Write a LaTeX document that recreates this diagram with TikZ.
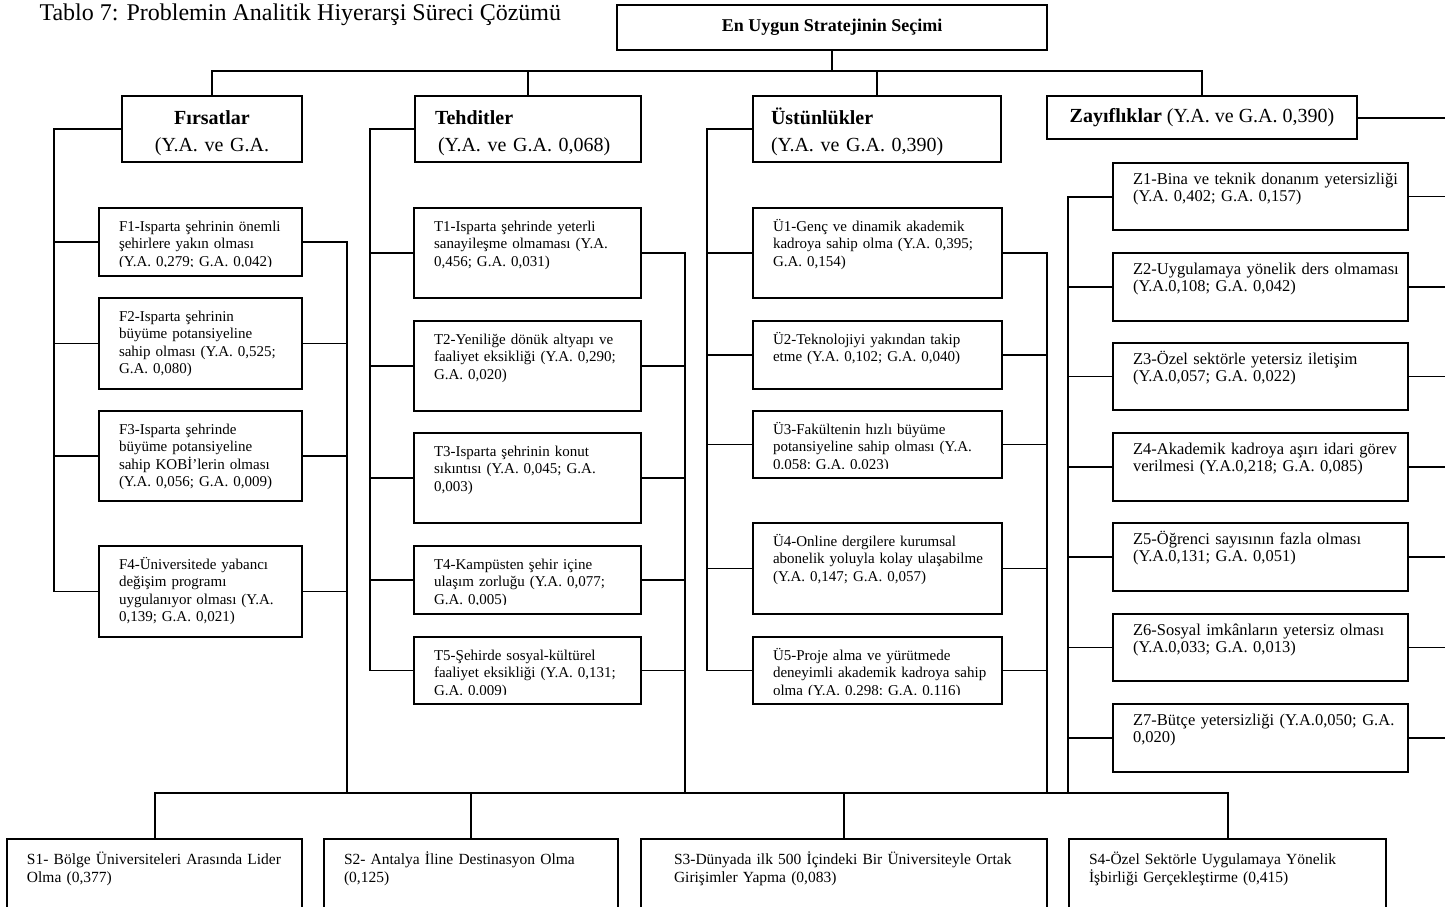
\documentclass[tikz,border=0pt]{standalone}
\usepackage{fontspec}
\setmainfont{Liberation Serif}
\usetikzlibrary{positioning}

\begin{document}
\begin{tikzpicture}[x=1pt, y=-1pt,
    box/.style={draw, line width=1.5pt, anchor=north west, inner sep=0pt, outer sep=0pt},
    itembox/.style 2 args={box, path picture={
        \clip (path picture bounding box.north west) rectangle ([yshift=10pt]path picture bounding box.south east);
        \node [anchor=base west, inner sep=0pt, text width=380pt, align=left] at ([shift={(20pt,-#1)}]path picture bounding box.north west) {#2};}},
    head/.style={box, minimum height=66, font=\fontsize{20}{27}\selectfont, text height=21.6pt, text depth=31.3pt},
    midtext/.style={font=\fontsize{15}{17.5}\selectfont},
    ztext/.style={font=\fontsize{16.5}{17}\selectfont},
    stext/.style={font=\fontsize{15.5}{18}\selectfont},
    wire/.style={line width=1.3pt},
    trunk/.style={line width=2pt}]
    \useasboundingbox (0,0) rectangle (1445,906);

    \node [anchor=base west, font=\fontsize{24}{29}\selectfont] (title) at (36,20) {Tablo 7: Problemin Analitik Hiyerarşi Süreci Çözümü};
    \node [box, minimum width=430, minimum height=45, font=\bfseries\fontsize{18}{22}\selectfont] (goal) at (617,5) {En Uygun Stratejinin Seçimi};

    % main groups
    \node [head, text width=180, align=center] (firs) at (122,96) {\textbf{Fırsatlar}\\(Y.A. ve G.A.};
    \node [head, text width=186, inner xsep=20pt, align=left] (tehd) at (415,96) {\textbf{Tehditler}\\\hspace*{3pt}(Y.A. ve G.A. 0,068)};
    \node [head, text width=212, inner xsep=18pt, align=left] (ustu) at (753,96) {\textbf{Üstünlükler}\\(Y.A. ve G.A. 0,390)};
    \node [box, minimum width=310, minimum height=43, font=\fontsize{20}{27}\selectfont] (zayi) at (1047,96) {\textbf{Zayıflıklar} (Y.A. ve G.A. 0,390)};

    % opportunities
    \node [itembox={23pt}{F1-Isparta şehrinin önemli\\şehirlere yakın olması\\(Y.A. 0,279; G.A. 0,042)}, midtext, minimum width=203, minimum height=68] (f1) at (99,208) {};
    \node [itembox={23pt}{F2-Isparta şehrinin\\büyüme potansiyeline\\sahip olması (Y.A. 0,525;\\G.A. 0,080)}, midtext, minimum width=203, minimum height=91, below=22pt of f1] (f2) {};
    \node [itembox={23pt}{F3-Isparta şehrinde\\büyüme potansiyeline\\sahip KOBİ’lerin olması\\(Y.A. 0,056; G.A. 0,009)}, midtext, minimum width=203, minimum height=90, below=22pt of f2] (f3) {};
    \node [itembox={23pt}{F4-Üniversitede yabancı\\değişim programı\\uygulanıyor olması (Y.A.\\0,139; G.A. 0,021)}, midtext, minimum width=203, minimum height=91, below=45pt of f3] (f4) {};

    % threats
    \node [itembox={23pt}{T1-Isparta şehrinde yeterli\\sanayileşme olmaması (Y.A.\\0,456; G.A. 0,031)}, midtext, minimum width=227, minimum height=90] (t1) at (414,208) {};
    \node [itembox={23pt}{T2-Yeniliğe dönük altyapı ve\\faaliyet eksikliği (Y.A. 0,290;\\G.A. 0,020)}, midtext, minimum width=227, minimum height=90, below=23pt of t1] (t2) {};
    \node [itembox={23pt}{T3-Isparta şehrinin konut\\sıkıntısı (Y.A. 0,045; G.A.\\0,003)}, midtext, minimum width=227, minimum height=90, below=22pt of t2] (t3) {};
    \node [itembox={23pt}{T4-Kampüsten şehir içine\\ulaşım zorluğu (Y.A. 0,077;\\G.A. 0,005)}, midtext, minimum width=227, minimum height=68, below=23pt of t3] (t4) {};
    \node [itembox={23pt}{T5-Şehirde sosyal-kültürel\\faaliyet eksikliği (Y.A. 0,131;\\G.A. 0,009)}, midtext, minimum width=227, minimum height=67, below=23pt of t4] (t5) {};

    % strengths
    \node [itembox={23pt}{Ü1-Genç ve dinamik akademik\\kadroya sahip olma (Y.A. 0,395;\\G.A. 0,154)}, midtext, minimum width=249, minimum height=90] (u1) at (753,208) {};
    \node [itembox={23pt}{Ü2-Teknolojiyi yakından takip\\etme (Y.A. 0,102; G.A. 0,040)}, midtext, minimum width=249, minimum height=68, below=23pt of u1] (u2) {};
    \node [itembox={23pt}{Ü3-Fakültenin hızlı büyüme\\potansiyeline sahip olması (Y.A.\\0,058; G.A. 0,023)}, midtext, minimum width=249, minimum height=67, below=22pt of u2] (u3) {};
    \node [itembox={23pt}{Ü4-Online dergilere kurumsal\\abonelik yoluyla kolay ulaşabilme\\(Y.A. 0,147; G.A. 0,057)}, midtext, minimum width=249, minimum height=91, below=45pt of u3] (u4) {};
    \node [itembox={23pt}{Ü5-Proje alma ve yürütmede\\deneyimli akademik kadroya sahip\\olma (Y.A. 0,298; G.A. 0,116)}, midtext, minimum width=249, minimum height=67, below=23pt of u4] (u5) {};

    % weaknesses
    \node [itembox={21pt}{Z1-Bina ve teknik donanım yetersizliği\\(Y.A. 0,402; G.A. 0,157)}, ztext, minimum width=295, minimum height=67] (z1) at (1113,163) {};
    \node [itembox={21pt}{Z2-Uygulamaya yönelik ders olmaması\\(Y.A.0,108; G.A. 0,042)}, ztext, minimum width=295, minimum height=68, below=23pt of z1] (z2) {};
    \node [itembox={21pt}{Z3-Özel sektörle yetersiz iletişim\\(Y.A.0,057; G.A. 0,022)}, ztext, minimum width=295, minimum height=67, below=22pt of z2] (z3) {};
    \node [itembox={21pt}{Z4-Akademik kadroya aşırı idari görev\\verilmesi (Y.A.0,218; G.A. 0,085)}, ztext, minimum width=295, minimum height=68, below=23pt of z3] (z4) {};
    \node [itembox={21pt}{Z5-Öğrenci sayısının fazla olması\\(Y.A.0,131; G.A. 0,051)}, ztext, minimum width=295, minimum height=68, below=22pt of z4] (z5) {};
    \node [itembox={21pt}{Z6-Sosyal imkânların yetersiz olması\\(Y.A.0,033; G.A. 0,013)}, ztext, minimum width=295, minimum height=67, below=23pt of z5] (z6) {};
    \node [itembox={21pt}{Z7-Bütçe yetersizliği (Y.A.0,050; G.A.\\0,020)}, ztext, minimum width=295, minimum height=68, below=23pt of z6] (z7) {};

    % strategies
    \node [itembox={25pt}{S1- Bölge Üniversiteleri Arasında Lider\\Olma (0,377)}, stext, minimum width=295, minimum height=91] (s1) at (7,839) {};
    \node [itembox={25pt}{S2- Antalya İline Destinasyon Olma\\(0,125)}, stext, minimum width=294, minimum height=91, right=22pt of s1] (s2) {};
    \node [itembox={25pt}{S3-Dünyada ilk 500 İçindeki Bir Üniversiteyle Ortak\\Girişimler Yapma (0,083)}, stext, minimum width=406, minimum height=91, right=23pt of s2] (s3) {};
    \node [itembox={25pt}{S4-Özel Sektörle Uygulamaya Yönelik\\İşbirliği Gerçekleştirme (0,415)}, stext, minimum width=317, minimum height=91, right=22pt of s3] (s4) {};

    % bus lines
    \coordinate (fl) at (54,0);
    \coordinate (fr) at (347,0);
    \coordinate (tl) at (370,0);
    \coordinate (tr) at (685,0);
    \coordinate (ul) at (707,0);
    \coordinate (ur) at (1047,0);
    \coordinate (zl) at (1068,0);
    \coordinate (edge) at (1460,0);
    \coordinate (sbus) at (0,793);

    \draw [wire] (goal.south) -- ++(0,21) coordinate (hub);
    \draw [wire] (firs.north) |- (hub) -| (zayi.north);
    \draw [wire] (tehd.north) -- (tehd.north |- hub);
    \draw [wire] (ustu.north) -- (ustu.north |- hub);

    \draw [trunk] (firs.west) -| (f4.west -| fl);
    \foreach \i in {1,...,4} \draw [wire] (f\i.west) -- (f\i.west -| fl);
    \draw [wire] (f1.east) -| (f4.east -| fr);
    \foreach \i in {2,...,4} \draw [wire] (f\i.east) -- (f\i.east -| fr);
    \draw [wire] (f4.north -| fr) -- (fr |- sbus);

    \draw [trunk] (tehd.west) -| (t5.west -| tl);
    \foreach \i in {1,...,5} \draw [wire] (t\i.west) -- (t\i.west -| tl);
    \draw [wire] (t1.east) -| (tr |- sbus);
    \foreach \i in {2,...,5} \draw [wire] (t\i.east) -- (t\i.east -| tr);

    \draw [trunk] (ustu.west) -| (u5.west -| ul);
    \foreach \i in {1,...,5} \draw [wire] (u\i.west) -- (u\i.west -| ul);
    \draw [wire] (u1.east) -| (ur |- sbus);
    \foreach \i in {2,...,5} \draw [wire] (u\i.east) -- (u\i.east -| ur);

    \draw [trunk] (zayi.east) -- (zayi.east -| edge);
    \draw [trunk] (z1.west) -| (zl |- sbus);
    \foreach \i in {2,...,7} \draw [wire] (z\i.west) -- (z\i.west -| zl);
    \foreach \i in {1,...,7} \draw [wire] (z\i.east) -- (z\i.east -| edge);

    \draw [trunk] (s1.north) |- (sbus -| s4.north) -- (s4.north);
    \draw [wire] (s2.north) -- (s2.north |- sbus);
    \draw [wire] (s3.north) -- (s3.north |- sbus);
\end{tikzpicture}
\end{document}
